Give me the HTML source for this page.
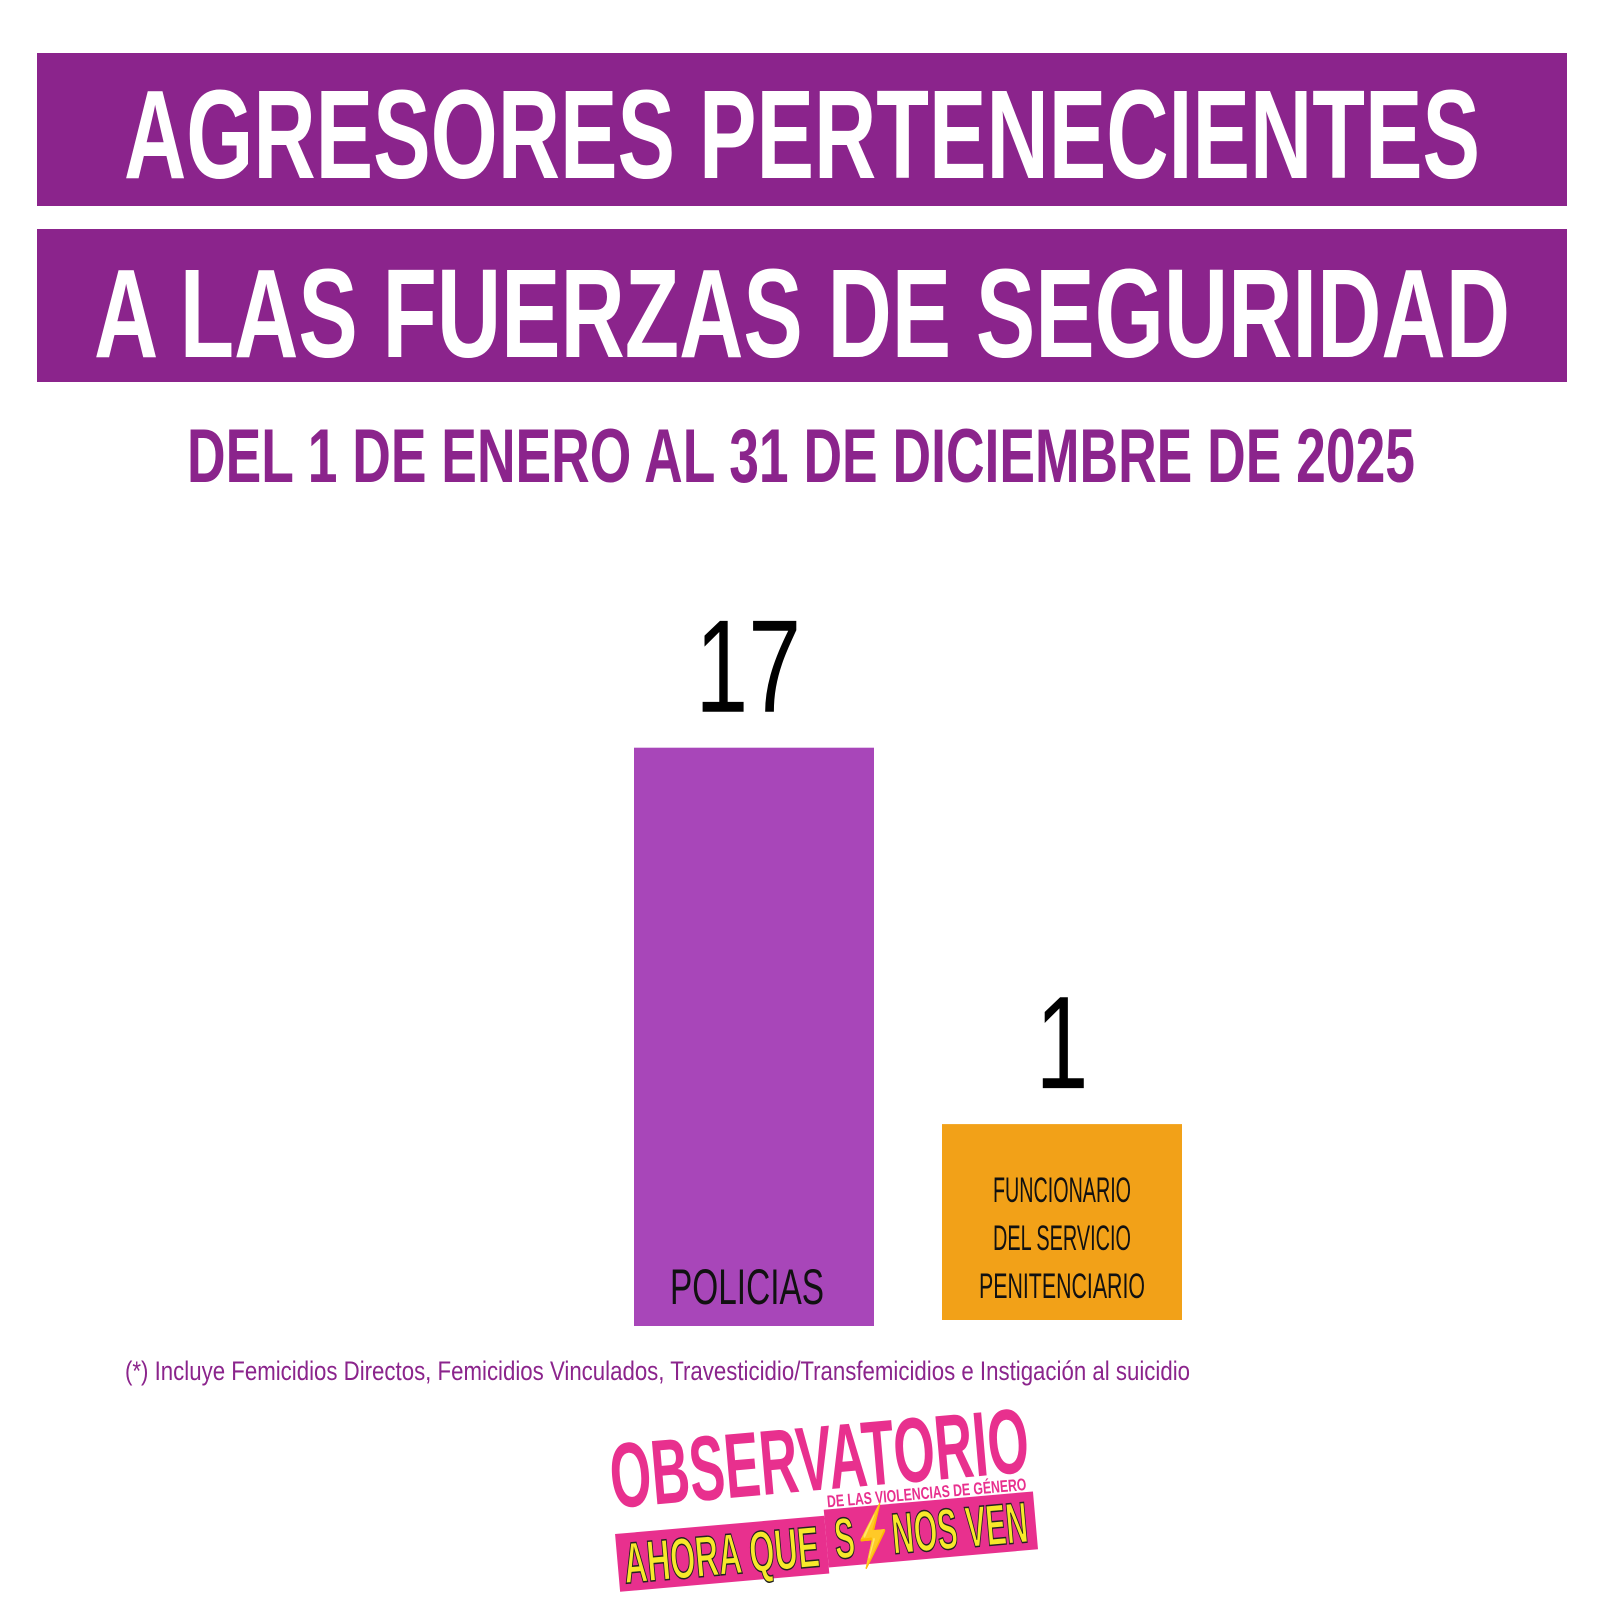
<!DOCTYPE html>
<html><head><meta charset="utf-8">
<style>
html,body{margin:0;padding:0;background:#fff;}
svg{display:block;}
text{font-family:"Liberation Sans",sans-serif;}
</style></head>
<body>
<svg id="chart" width="1600" height="1600" viewBox="0 0 1600 1600" xmlns="http://www.w3.org/2000/svg">
  <rect x="37" y="53" width="1530" height="153" fill="#8b248c"/>
  <rect x="37" y="229" width="1530" height="153" fill="#8b248c"/>
  <text x="124" y="178" font-size="126" font-weight="bold" fill="#fff" textLength="1356" lengthAdjust="spacingAndGlyphs">AGRESORES PERTENECIENTES</text>
  <text x="94" y="357" font-size="126" font-weight="bold" fill="#fff" textLength="1416" lengthAdjust="spacingAndGlyphs">A LAS FUERZAS DE SEGURIDAD</text>
  <text x="187" y="482" font-size="76" font-weight="bold" fill="#8b248c" textLength="1228" lengthAdjust="spacingAndGlyphs">DEL 1 DE ENERO AL 31 DE DICIEMBRE DE 2025</text>
  <g id="bars"></g>
  <text x="125" y="1380" font-size="27" fill="#8b248c" textLength="1065" lengthAdjust="spacingAndGlyphs">(*) Incluye Femicidios Directos, Femicidios Vinculados,  Travesticidio/Transfemicidios e Instigación al suicidio</text>
  <g transform="rotate(-5 820 1490)">
    <text x="612" y="1490" font-size="92" font-weight="bold" fill="#e8308e" textLength="420" lengthAdjust="spacingAndGlyphs">OBSERVATORIO</text>
    <text x="826" y="1508" font-size="17" font-weight="bold" fill="#e8308e" textLength="200" lengthAdjust="spacingAndGlyphs">DE LAS VIOLENCIAS DE GÉNERO</text>
    <rect x="612" y="1516" width="210" height="58" fill="#e8308e"/>
    <rect x="822" y="1510" width="210" height="58" fill="#e8308e"/>
    <text x="618" y="1566" font-size="58" font-weight="bold" fill="#f7e82a" stroke="#222" stroke-width="1.5" textLength="196" lengthAdjust="spacingAndGlyphs">AHORA QUE</text>
    <text x="830" y="1560" font-size="58" font-weight="bold" fill="#f7e82a" stroke="#222" stroke-width="1.5" textLength="194" lengthAdjust="spacingAndGlyphs">S⚡NOS VEN</text>
  </g>
</svg>
<script>
const categories = ["POLICIAS", "FUNCIONARIO DEL SERVICIO PENITENCIARIO"];
const values = [17, 1];
const valueLabels = ["17", "1"];
const barColors = ["#a846b9", "#f2a118"];

const NS = "http://www.w3.org/2000/svg";
const g = document.getElementById("bars");
const bandX = i => 634 + i * 308;
const barW = 240;
const baseY = i => i === 0 ? 1326 : 1320;
const yScale = v => 172 + v * 23.9; // bar height from value
values.forEach((v, i) => {
  const h = yScale(v);
  const x = bandX(i);
  const top = baseY(i) - h;
  const r = document.createElementNS(NS, "rect");
  
  
  r.setAttribute("x", x); r.setAttribute("y", top);
  r.setAttribute("width", barW); r.setAttribute("height", h);
  r.setAttribute("fill", barColors[i]);
  g.appendChild(r);
  const t = document.createElementNS(NS, "text");
  
  
  t.setAttribute("x", x + barW / 2 + (i === 0 ? -8 : 0)); t.setAttribute("y", top - 36);
  t.setAttribute("text-anchor", "middle");
  t.setAttribute("font-size", "132");
  t.setAttribute("fill", "#000");
  t.setAttribute("transform", "translate(" + (x + barW/2) + " 0) scale(0.72 1) translate(" + (-(x + barW/2)) + " 0)");
  t.textContent = valueLabels[i];
  g.appendChild(t);
  if (i === 0) {
    const l = document.createElementNS(NS, "text");
    
    
    l.setAttribute("x", x + 36); l.setAttribute("y", baseY(i) - 22);
    l.setAttribute("font-size", "50"); l.setAttribute("fill", "#111");
    l.setAttribute("textLength", "154"); l.setAttribute("lengthAdjust", "spacingAndGlyphs");
    l.textContent = categories[i];
    g.appendChild(l);
  } else {
    const lines = ["FUNCIONARIO", "DEL SERVICIO", "PENITENCIARIO"];
    const widths = [138, 138, 166];
    lines.forEach((s, k) => {
      const l = document.createElementNS(NS, "text");
      
      
      l.setAttribute("x", x + barW / 2); l.setAttribute("y", 1202 + k * 48);
      l.setAttribute("text-anchor", "middle");
      l.setAttribute("font-size", "35"); l.setAttribute("fill", "#111");
      l.setAttribute("textLength", widths[k]); l.setAttribute("lengthAdjust", "spacingAndGlyphs");
      l.textContent = s;
      g.appendChild(l);
    });
  }
});
</script>
</body></html>
